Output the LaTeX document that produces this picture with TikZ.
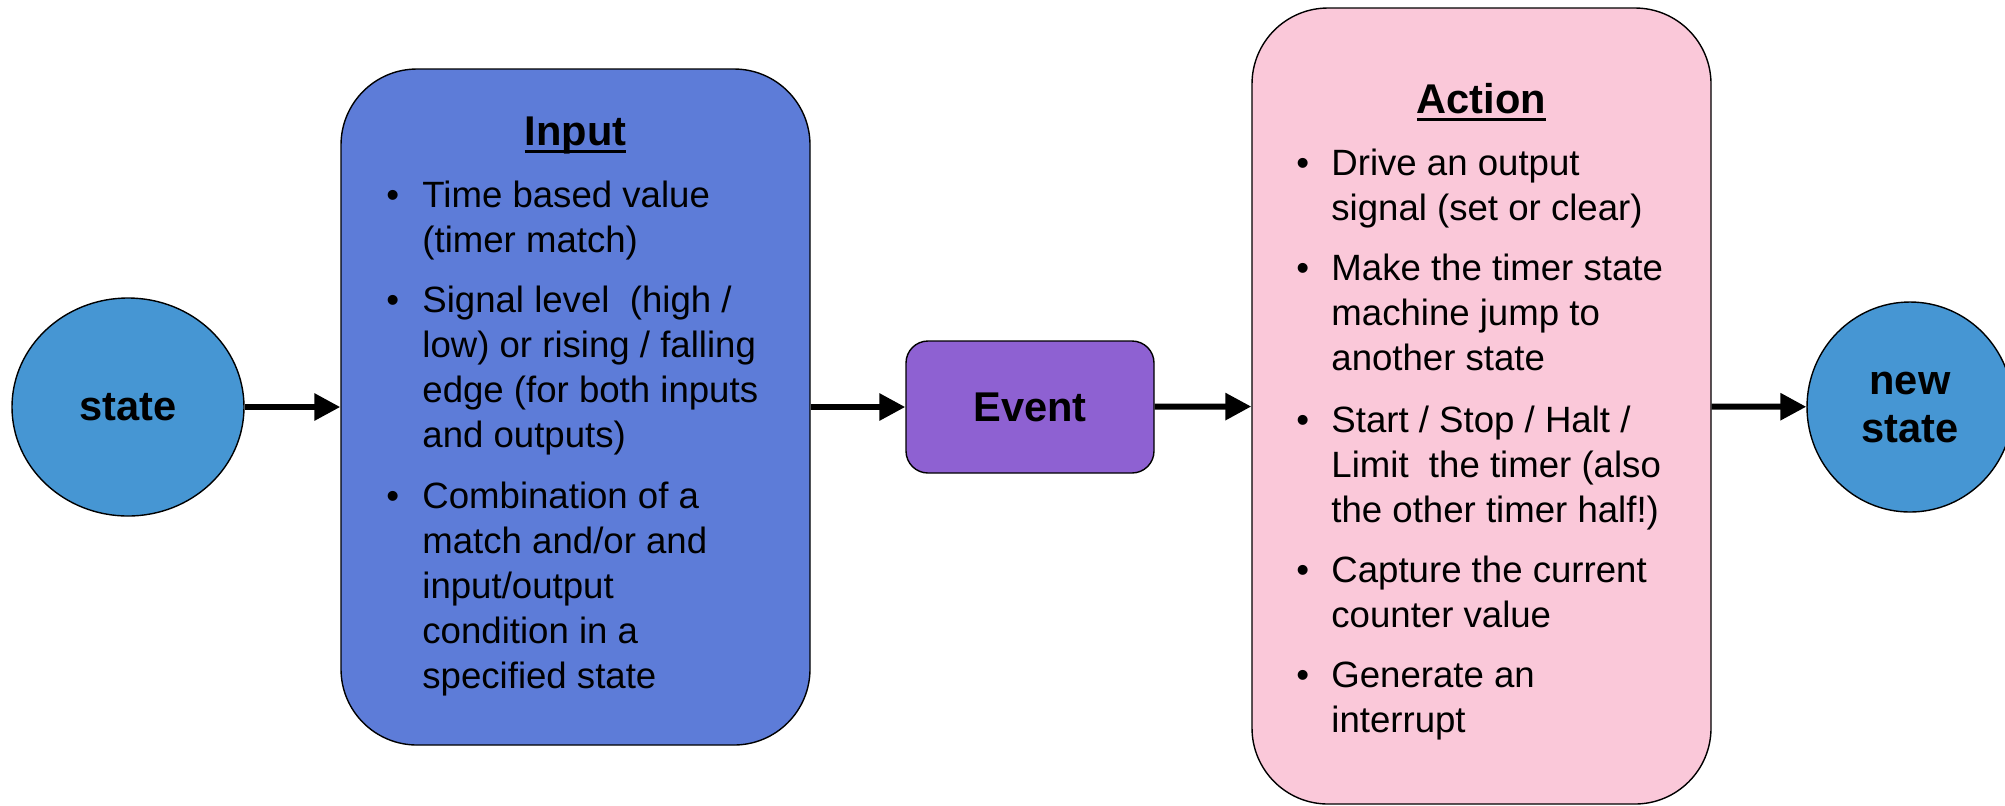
\documentclass[tikz,border=0pt]{standalone}
\usepackage{fontspec}
\setmainfont{Liberation Sans}
\usetikzlibrary{arrows.meta,shapes.geometric}
\definecolor{statefill}{HTML}{4696D3}
\definecolor{inputfill}{HTML}{5D7CD8}
\definecolor{eventfill}{HTML}{8E61D2}
\definecolor{actionfill}{HTML}{FAC8D9}
\newcommand{\titleul}[1]{\setbox0\hbox{#1}\rlap{\rule[-4pt]{\wd0}{1.6pt}}\box0}
\tikzset{
  statenode/.style={ellipse, draw, line width=0.7pt, fill=statefill, inner sep=0pt,
                    align=center, font=\fontsize{20.8}{24}\selectfont\bfseries},
  bigbox/.style={draw, line width=0.7pt, rounded corners=38pt, inner sep=0pt},
  evbox/.style={draw, line width=0.7pt, rounded corners=11pt, fill=eventfill,
                minimum width=124pt, minimum height=66pt, inner sep=0pt,
                font=\fontsize{20.8}{24}\selectfont\bfseries},
  boxtitle/.style={anchor=base, inner sep=0pt, font=\fontsize{20.8}{24}\selectfont\bfseries},
  itemdot/.style={anchor=base west, inner sep=0pt, font=\fontsize{18.3}{22.5}\selectfont},
  % base of a multi-line node sits on its last line
  itemtext/.style={anchor=base west, inner sep=0pt, align=left,
                   font=\fontsize{18.3}{22.5}\selectfont},
  flow/.style={-{Triangle[length=13pt,width=13pt]}, line width=3pt},
}

\begin{document}
\begin{tikzpicture}[x=0.5pt,y=-0.5pt]
  \useasboundingbox (0,0) rectangle (2005,805);
  \node[statenode, minimum width=116pt, minimum height=109pt] (state) at (128,407) {state};
  \node[bigbox, fill=inputfill, minimum width=234.5pt, minimum height=338pt] (input) at (575.5,407) {};
  \node[evbox] (event) at (1030,407) {Event};
  \node[bigbox, fill=actionfill, minimum width=229.5pt, minimum height=398pt] (action) at (1481.5,406) {};
  \node[statenode, minimum width=103pt, minimum height=105pt] (newstate) at (1910,407) {new\\state};

  \node[boxtitle] (inputtitle) at (575.5,145) {\titleul{Input}};
  \node[itemdot] (in1dot) at (386,207) {\textbullet};
  \node[itemtext] (in1) at (422,252) {Time based value\\(timer match)};
  \node[itemdot] (in2dot) at (386,312) {\textbullet};
  \node[itemtext] (in2) at (422,447) {Signal level\ \ (high /\\low) or rising / falling\\edge (for both inputs\\and outputs)};
  \node[itemdot] (in3dot) at (386,508) {\textbullet};
  \node[itemtext] (in3) at (422,688) {Combination of a\\match and/or and\\input/output\\condition in a\\specified state};

  \node[boxtitle] (actiontitle) at (1481.5,113) {\titleul{Action}};
  \node[itemdot] (ac1dot) at (1296,175) {\textbullet};
  \node[itemtext] (ac1) at (1331,220) {Drive an output\\signal (set or clear)};
  \node[itemdot] (ac2dot) at (1296,280) {\textbullet};
  \node[itemtext] (ac2) at (1331,370) {Make the timer state\\machine jump to\\another state};
  \node[itemdot] (ac3dot) at (1296,432) {\textbullet};
  \node[itemtext] (ac3) at (1331,522) {Start / Stop / Halt /\\Limit\ \ the timer (also\\the other timer half!)};
  \node[itemdot] (ac4dot) at (1296,582) {\textbullet};
  \node[itemtext] (ac4) at (1331,627) {Capture the current\\counter value};
  \node[itemdot] (ac5dot) at (1296,687) {\textbullet};
  \node[itemtext] (ac5) at (1331,732) {Generate an\\interrupt};

  \draw[flow] (state) -- (input);
  \draw[flow] (input) -- (event);
  \draw[flow] (event) -- (action);
  \draw[flow] (action) -- (newstate);
\end{tikzpicture}
\end{document}
